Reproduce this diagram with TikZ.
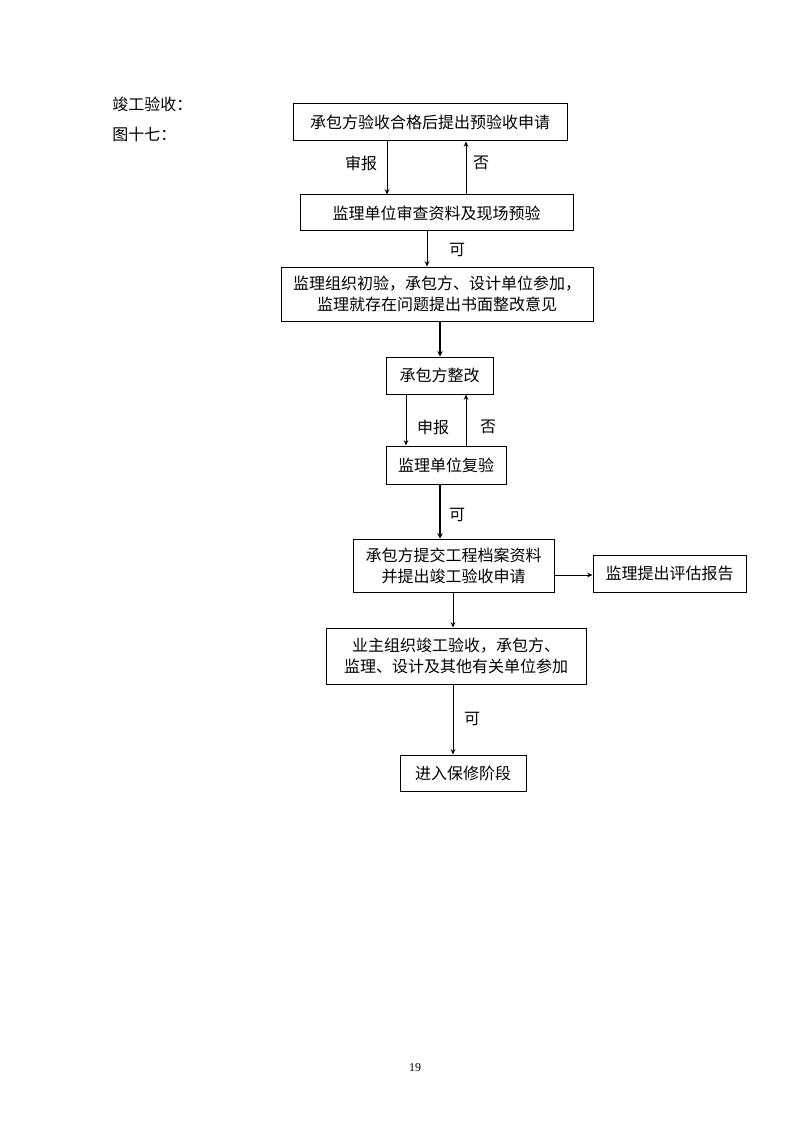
\documentclass[tikz,border=0pt]{standalone}
\usepackage{fontspec}
\setmainfont{Liberation Serif}
\newfontfamily\cjk{Noto Sans CJK SC}
\usepackage{tikz}
\usetikzlibrary{arrows.meta,positioning}
\tikzset{flowbox/.style={draw,rectangle,line width=0.75pt,inner sep=0,align=center,font=\cjk\fontsize{12}{15.75}\selectfont},
    flowarrow/.style={line width=0.75pt,-{Stealth[length=4pt,width=3.5pt]}},
    heavyarrow/.style={line width=1.8pt,-{Stealth[length=4pt,width=4pt]}},
    edgelabel/.style={font=\cjk\fontsize{12}{14}\selectfont,inner sep=0},
    plaintext/.style={font=\cjk\fontsize{12}{14}\selectfont,inner sep=0,anchor=west}}

\begin{document}
\begin{tikzpicture}[x=0.75pt,y=-0.75pt]

\useasboundingbox (0,0) rectangle (794,1123);

\node (title) [plaintext] at (112,104) {竣工验收：};
\node (figno) [plaintext] at (112,134) {图十七：};

\node (apply) [flowbox,minimum width=205.5pt,minimum height=27.75pt] at (430,122.5) {承包方验收合格后提出预验收申请};
\node (precheck) [flowbox,minimum width=204.75pt,minimum height=27pt] at (436.5,213) {监理单位审查资料及现场预验};
\node (initial) [flowbox,minimum width=234pt,minimum height=40.5pt] at (437,294) {监理组织初验，承包方、设计单位参加，\\监理就存在问题提出书面整改意见};
\node (rectify) [flowbox,minimum width=80.25pt,minimum height=27.75pt] at (439.5,375.5) {承包方整改};
\node (recheck) [flowbox,minimum width=90pt,minimum height=28.5pt] at (446,465) {监理单位复验};
\node (archive) [flowbox,minimum width=150.75pt,minimum height=39.75pt] at (453.5,565.5) {承包方提交工程档案资料\\并提出竣工验收申请};
\node (report) [flowbox,minimum width=114.75pt,minimum height=27.75pt] at (669.5,573.5) {监理提出评估报告};
\node (final) [flowbox,minimum width=195pt,minimum height=42pt] at (456,656) {业主组织竣工验收，承包方、\\监理、设计及其他有关单位参加};
\node (warranty) [flowbox,minimum width=94.5pt,minimum height=27pt] at (463,773) {进入保修阶段};

% first loop
\draw [flowarrow] (apply.south -| 387,0) -- (precheck.north -| 387,0);
\draw [flowarrow] (precheck.north -| 466,0) -- (apply.south -| 466,0);
\node (lsub1) [edgelabel] at (361,163) {审报};
\node (lno1) [edgelabel] at (481,163) {否};

\draw [flowarrow] (precheck.south -| 427,0) -- (initial.north -| 427,0);
\node (lok1) [edgelabel] at (457,250) {可};

\draw [heavyarrow] (initial.south -| 440,0) -- (rectify.north -| 440,0);

% second loop
\draw [flowarrow] (rectify.south -| 406,0) -- (recheck.north -| 406,0);
\draw [flowarrow] (recheck.north -| 466,0) -- (rectify.south -| 466,0);
\node (lsub2) [edgelabel] at (433,427) {申报};
\node (lno2) [edgelabel] at (488,427) {否};

\draw [heavyarrow] (recheck.south -| 440,0) -- (archive.north -| 440,0);
\node (lok2) [edgelabel] at (457,515) {可};

\draw [flowarrow] (archive.east |- 0,575) -- (report.west |- 0,575);
\draw [flowarrow] (archive.south -| 453,0) -- (final.north -| 453,0);
\draw [flowarrow] (final.south -| 453,0) -- (warranty.north -| 453,0);
\node (lok3) [edgelabel] at (472,719) {可};

\node (pageno) [font=\fontsize{9}{10}\selectfont,inner sep=0] at (415,1068) {19};

\end{tikzpicture}
\end{document}
